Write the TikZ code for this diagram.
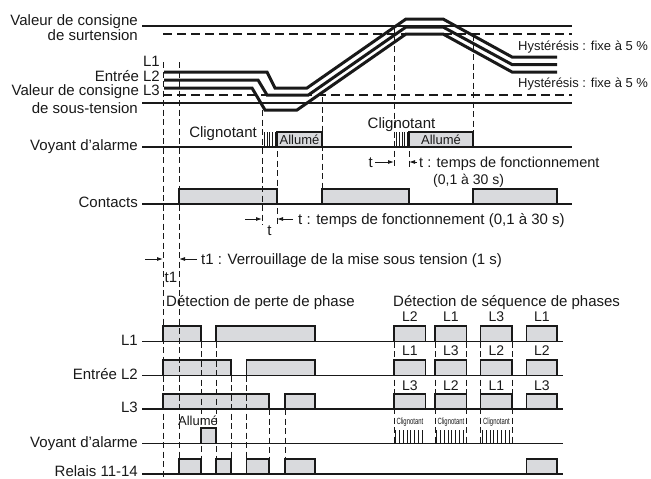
\documentclass[tikz,border=0pt]{standalone}
\usepackage{fontspec}
\setmainfont{Liberation Sans}
\usetikzlibrary{arrows.meta}
\definecolor{boxfill}{RGB}{217,218,221}
\definecolor{ink}{RGB}{25,25,25}
\begin{document}
\begin{tikzpicture}[x=1pt,y=-1pt,
  lbl/.style={font=\fontsize{15}{17}\selectfont, inner sep=0pt, text=ink},
  mid/.style={font=\fontsize{14}{16}\selectfont, inner sep=0pt, text=ink},
  sml/.style={font=\fontsize{13}{15}\selectfont, inner sep=0pt, text=ink},
  tiny/.style={font=\fontsize{9}{10}\selectfont, inner sep=0pt, text=ink},
  wave/.style={line width=3pt, line join=miter, draw=ink},
  thr/.style={line width=1.8pt, draw=ink},
  thrd/.style={line width=1.3pt, draw=ink, dash pattern=on 9pt off 5pt},
  base/.style={line width=1.2pt, draw=ink},
  vd/.style={line width=0.9pt, draw=ink, dash pattern=on 6pt off 3.5pt},
  pulse/.style={draw=ink, line width=1.5pt, fill=boxfill},
  hatch/.style={line width=0.8pt, draw=ink},
  arr/.style={line width=0.9pt, draw=ink, -{Latex[length=6pt,width=4pt]}},
]
\useasboundingbox (0,0) rectangle (651,479);

% ---------- upper part: thresholds ----------
\draw[thr] (142,26) -- (572,26);
\draw[thrd] (163,34) -- (572,34);
\draw[thrd] (163,95) -- (572,95);
\draw[thr] (142,103) -- (572,103);

% ---------- waveforms ----------
\draw[wave] (164,72) -- (267,72) -- (275,88) -- (307,88) -- (406,19) -- (443,19) -- (512,57) -- (557,57);
\draw[wave] (164,80) -- (258,80) -- (267,95) -- (308.4,95) -- (406,27) -- (443,27) -- (512,64.5) -- (557,64.5);
\draw[wave] (164,88) -- (252,88) -- (265,110) -- (297,110) -- (406,34) -- (443,34) -- (512,72) -- (557,72);

% ---------- alarm lamp (upper) ----------
\draw[base] (142,147) -- (572,147);
\foreach \i in {0,...,4} \draw[hatch] ({264.5+2.6*\i},132) -- ({264.5+2.6*\i},147);
\foreach \i in {0,...,4} \draw[hatch] ({396.7+2.6*\i},132) -- ({396.7+2.6*\i},147);
\draw[pulse] (277,132) rectangle (322,147);
\draw[pulse] (409,132) rectangle (473,147);

% ---------- contacts ----------
\draw[base] (142,204) -- (572,204);
\draw[pulse] (179,189) rectangle (277,204);
\draw[pulse] (322,189) rectangle (409,204);
\draw[pulse] (473,189) rectangle (557,204);

% ---------- lower part ----------
\draw[base] (142,341.5) -- (563,341.5);
\draw[base] (142,375.5) -- (563,375.5);
\draw[base] (142,409) -- (563,409);
\draw[base] (142,443.5) -- (563,443.5);
\draw[base] (142,474) -- (563,474);

% L1 row
\draw[pulse] (163,326) rectangle (201,341.5);
\draw[pulse] (216,326) rectangle (315,341.5);
% L2 row
\draw[pulse] (163,360) rectangle (231,375.5);
\draw[pulse] (246.5,360) rectangle (315,375.5);
% L3 row
\draw[pulse] (163,394) rectangle (269,409);
\draw[pulse] (285,394) rectangle (315,409);
% lamp
\draw[pulse] (201,428) rectangle (216,443.5);
% relay
\draw[pulse] (179,459) rectangle (201,474);
\draw[pulse] (216,459) rectangle (231,474);
\draw[pulse] (246.5,459) rectangle (269,474);
\draw[pulse] (285,459) rectangle (315,474);
\draw[pulse] (526.7,459) rectangle (557,474);
% sequence boxes
\foreach \a/\b in {394/425.7, 435/466.7, 480.7/512, 526.7/557}{
  \draw[pulse] (\a,326) rectangle (\b,341.5);
  \draw[pulse] (\a,360) rectangle (\b,375.5);
  \draw[pulse] (\a,394) rectangle (\b,409);
}
% sequence hatching
\foreach \a in {394,435,480.7}{
  \foreach \i in {0,...,7} \draw[hatch] ({\a+1.6+3.8*\i},430) -- ({\a+1.6+3.8*\i},443.5);
}

% ---------- dashed verticals ----------
\draw[vd] (163,62) -- (163,478);
\draw[vd] (179,62) -- (179,459);
\draw[vd] (262,110) -- (262,225);
\draw[vd] (277,132) -- (277,225);
\draw[vd] (322,97) -- (322,189);
\draw[vd] (394,27) -- (394,168);
\draw[vd] (409,132) -- (409,168);
\draw[vd] (473,35) -- (473,132);
\draw[vd] (201,341.5) -- (201,459);
\draw[vd] (216,341.5) -- (216,459);
\draw[vd] (231,375.5) -- (231,459);
\draw[vd] (246.5,375.5) -- (246.5,459);
\draw[vd] (269,409) -- (269,459);
\draw[vd] (285,409) -- (285,459);
\foreach \x in {394,435,466.7,480.7,512} \draw[vd] (\x,341.5) -- (\x,443.5);

% ---------- time arrows ----------
\coordinate (ta1) at (245,219); \coordinate (tb1) at (262,219);
\coordinate (ta2) at (293,219); \coordinate (tb2) at (277,219);
\draw[arr] (ta1) -- (tb1);
\draw[arr] (ta2) -- (tb2);
\coordinate (tc1) at (375,162); \coordinate (td1) at (394,162);
\coordinate (tc2) at (417,162); \coordinate (td2) at (409,162);
\draw[arr] (tc1) -- (td1);
\draw[arr] (tc2) -- (td2);
\coordinate (te1) at (145,259); \coordinate (tf1) at (163,259);
\coordinate (te2) at (197,259); \coordinate (tf2) at (179,259);
\draw[arr] (te1) -- (tf1);
\draw[arr] (te2) -- (tf2);

% ---------- texts ----------
\node[lbl, anchor=base east] (vcs1) at (138,25) {Valeur de consigne};
\node[lbl, anchor=base east] (vcs2) at (138,40.5) {de surtension};
\node[lbl, anchor=base east] (inl1) at (160,66.5) {L1};
\node[lbl, anchor=base east] (inl2) at (160,81) {Entrée L2};
\node[lbl, anchor=base east] (inl3) at (160,95) {Valeur de consigne L3};
\node[lbl, anchor=base east] (vcu2) at (138,113) {de sous-tension};
\node[sml, anchor=base west] (hys1) at (518,50) {Hystérésis : fixe à 5 \%};
\node[sml, anchor=base west] (hys2) at (518,87) {Hystérésis : fixe à 5 \%};

\node[lbl, anchor=base east] (va1) at (138,150) {Voyant d'alarme};
\node[lbl, anchor=base east] (cl1) at (257,137) {Clignotant};
\node[lbl, anchor=base] (cl2) at (401.5,128) {Clignotant};
\node[sml, anchor=base] (al1) at (299.5,144) {Allumé};
\node[sml, anchor=base] (al2) at (441,144) {Allumé};

\node[lbl, anchor=base east] (ct) at (138,207) {Contacts};
\node[lbl, anchor=base west] (tt1) at (298,224.5) {t : temps de fonctionnement (0,1 à 30 s)};
\node[lbl, anchor=base] (t1s) at (269.5,235) {t};
\node[lbl, anchor=base east] (t2s) at (373,167) {t};
\node[font=\fontsize{14.5}{16}\selectfont, inner sep=0pt, text=ink, anchor=base west] (tt2) at (419,167) {t : temps de fonctionnement};
\node[mid, anchor=base west] (tt3) at (433,184) {(0,1 à 30 s)};

\node[lbl, anchor=base west] (tv) at (201,264.5) {t1 : Verrouillage de la mise sous tension (1 s)};
\node[lbl, anchor=base] (t1l) at (171,282) {t1};

\node[lbl, anchor=base west] (dpp) at (166,306) {Détection de perte de phase};
\node[lbl, anchor=base west] (dsp) at (393,306) {Détection de séquence de phases};

\node[lbl, anchor=base east] (bl1) at (138,345) {L1};
\node[lbl, anchor=base east] (bl2) at (138,379) {Entrée L2};
\node[lbl, anchor=base east] (bl3) at (138,412.5) {L3};
\node[lbl, anchor=base east] (bva) at (138,447) {Voyant d'alarme};
\node[lbl, anchor=base east] (brl) at (138,476.5) {Relais 11-14};
\node[sml, anchor=base] (bal) at (198,425) {Allumé};

% sequence labels
\node[mid, anchor=base] (s11) at (409.9,321.7) {L2};
\node[mid, anchor=base] (s12) at (450.9,321.7) {L1};
\node[mid, anchor=base] (s13) at (496.4,321.7) {L3};
\node[mid, anchor=base] (s14) at (541.9,321.7) {L1};
\node[mid, anchor=base] (s21) at (409.9,355) {L1};
\node[mid, anchor=base] (s22) at (450.9,355) {L3};
\node[mid, anchor=base] (s23) at (496.4,355) {L2};
\node[mid, anchor=base] (s24) at (541.9,355) {L2};
\node[mid, anchor=base] (s31) at (409.9,390) {L3};
\node[mid, anchor=base] (s32) at (450.9,390) {L2};
\node[mid, anchor=base] (s33) at (496.4,390) {L1};
\node[mid, anchor=base] (s34) at (541.9,390) {L3};

\node[tiny, anchor=base] (sc1) at (409.9,424.5) {\scalebox{0.66}[1]{Clignotant}};
\node[tiny, anchor=base] (sc2) at (450.9,424.5) {\scalebox{0.66}[1]{Clignotant}};
\node[tiny, anchor=base] (sc3) at (496.4,424.5) {\scalebox{0.66}[1]{Clignotant}};
\end{tikzpicture}
\end{document}
